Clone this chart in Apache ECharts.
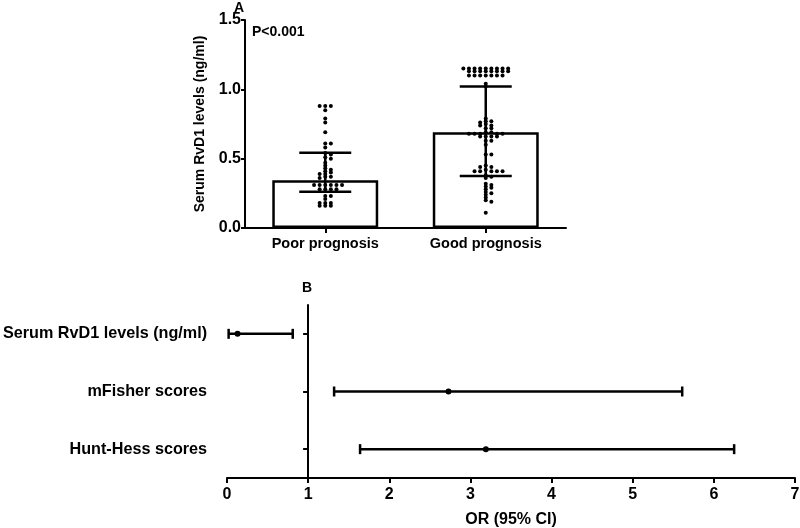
<!DOCTYPE html>
<html><head><meta charset="utf-8">
<script src="https://cdn.jsdelivr.net/npm/echarts@6/dist/echarts.min.js"></script>
<style>html,body{margin:0;padding:0;background:#fff}#c{width:800px;height:528px}</style>
</head><body><div id="c"></div>
<script>
// ---- Panel A data ----
const groups = ['Poor prognosis', 'Good prognosis'];
const groupMeans = [0.345, 0.69];
const errLow = [0.262, 0.375];
const errHigh = [0.543, 1.02];
const poorValues = [0.88,0.88,0.88,0.85,0.79,0.76,0.69,0.61,0.61,0.58,0.54,0.53,0.51,0.50,0.47,0.45,0.43,0.42,0.41,0.40,0.39,0.39,0.37,0.37,0.36,0.31,0.31,0.31,0.31,0.31,0.31,0.28,0.28,0.28,0.28,0.23,0.23,0.21,0.18,0.18,0.18,0.16,0.16,0.16];
const goodValues = [1.15,1.15,1.15,1.15,1.15,1.15,1.15,1.15,1.15,1.13,1.13,1.13,1.13,1.13,1.13,1.13,1.13,1.10,1.10,1.10,1.10,1.10,1.10,1.10,1.04,1.02,0.79,0.77,0.77,0.76,0.75,0.74,0.74,0.72,0.72,0.69,0.69,0.68,0.68,0.68,0.68,0.68,0.66,0.66,0.66,0.66,0.63,0.63,0.60,0.53,0.53,0.45,0.44,0.44,0.42,0.41,0.41,0.41,0.41,0.41,0.38,0.37,0.36,0.32,0.31,0.30,0.29,0.28,0.26,0.25,0.24,0.22,0.20,0.19,0.11];
// ---- Panel B data ----
const forestLabels = ['Serum RvD1 levels (ng/ml)', 'mFisher scores', 'Hunt-Hess scores'];
const orValues = [0.13, 2.73, 3.19];
const ciLow = [0.02, 1.32, 1.64];
const ciHigh = [0.81, 5.61, 6.25];

const FONT = "'Liberation Sans', Arial, sans-serif";
const txt = (size) => ({ color: '#000', fontFamily: FONT, fontWeight: 'bold', fontSize: size });

const chart = echarts.init(document.getElementById('c'), null, { renderer: 'canvas' });

const errData = groups.map((g, i) => [i, errLow[i], errHigh[i]]);
const forestData = forestLabels.map((l, i) => [i, ciLow[i], orValues[i], ciHigh[i]]);

const option = {
  animation: false,
  backgroundColor: '#fff',
  grid: [
    { left: 245, right: 234, top: 20, bottom: 300, containLabel: false, outerBoundsMode: 'none' },
    { left: 227, right: 5, top: 305, bottom: 50, containLabel: false, outerBoundsMode: 'none' }
  ],
  xAxis: [
    {
      gridIndex: 0, type: 'category', data: groups,
      axisLine: { show: true, lineStyle: { color: '#000', width: 2 } },
      axisTick: { show: true, alignWithLabel: true, length: 5, lineStyle: { color: '#000', width: 2 } },
      axisLabel: Object.assign(txt(14.5), { margin: 8 })
    },
    {
      gridIndex: 1, type: 'value', min: 0, max: 7, interval: 1,
      name: 'OR (95% CI)', nameLocation: 'middle', nameGap: 34, nameTextStyle: txt(16),
      splitLine: { show: false },
      axisLine: { show: true, onZero: false, lineStyle: { color: '#000', width: 2 } },
      axisTick: { show: true, length: 5, lineStyle: { color: '#000', width: 2 } },
      axisLabel: Object.assign(txt(16), { margin: 9 })
    }
  ],
  yAxis: [
    {
      gridIndex: 0, type: 'value', min: 0, max: 1.5, interval: 0.5,
      name: 'Serum RvD1 levels (ng/ml)', nameLocation: 'middle', nameGap: 38, nameRotate: 90,
      nameTextStyle: txt(14),
      splitLine: { show: false },
      axisLine: { show: true, lineStyle: { color: '#000', width: 2 } },
      axisTick: { show: true, length: 4, lineStyle: { color: '#000', width: 2 } },
      axisLabel: Object.assign(txt(16), { margin: 4, formatter: v => v.toFixed(1) })
    },
    {
      gridIndex: 1, type: 'category', data: forestLabels, inverse: true,
      position: 'left', offset: -81.1,
      axisLine: { show: true, onZero: false, lineStyle: { color: '#000', width: 2 } },
      axisTick: { show: true, alignWithLabel: true, length: 5, lineStyle: { color: '#000', width: 2 } },
      axisLabel: Object.assign(txt(16.2), { margin: 101 })
    }
  ],
  graphic: [
    { type: 'text', left: 234, top: 1, style: { text: 'A', font: 'bold 14px ' + FONT, fill: '#000' } },
    { type: 'text', left: 252, top: 25, style: { text: 'P<0.001', font: 'bold 14px ' + FONT, fill: '#000' } },
    { type: 'text', left: 302, top: 281, style: { text: 'B', font: 'bold 14px ' + FONT, fill: '#000' } }
  ],
  series: [
    {
      type: 'bar', xAxisIndex: 0, yAxisIndex: 0, data: groupMeans, barWidth: '66%',
      itemStyle: { color: '#fff', borderColor: '#000', borderWidth: 2.5 }, z: 2
    },
    {
      type: 'custom', xAxisIndex: 0, yAxisIndex: 0, data: errData, z: 3,
      renderItem: (params, api) => {
        const lo = api.coord([api.value(0), api.value(1)]);
        const hi = api.coord([api.value(0), api.value(2)]);
        const hw = 26;
        const st = { stroke: '#000', lineWidth: 2.5 };
        return { type: 'group', children: [
          { type: 'line', shape: { x1: lo[0], y1: lo[1], x2: hi[0], y2: hi[1] }, style: st },
          { type: 'line', shape: { x1: lo[0] - hw, y1: lo[1], x2: lo[0] + hw, y2: lo[1] }, style: st },
          { type: 'line', shape: { x1: hi[0] - hw, y1: hi[1], x2: hi[0] + hw, y2: hi[1] }, style: st }
        ]};
      }
    },
    {
      type: 'custom', xAxisIndex: 1, yAxisIndex: 1, data: forestData, z: 3,
      renderItem: (params, api) => {
        const c = api.value(0);
        const lo = api.coord([api.value(1), c]);
        const mid = api.coord([api.value(2), c]);
        const hi = api.coord([api.value(3), c]);
        const cap = 5;
        const st = { stroke: '#000', lineWidth: 2.5 };
        return { type: 'group', children: [
          { type: 'line', shape: { x1: lo[0], y1: lo[1], x2: hi[0], y2: hi[1] }, style: st },
          { type: 'line', shape: { x1: lo[0], y1: lo[1] - cap, x2: lo[0], y2: lo[1] + cap }, style: st },
          { type: 'line', shape: { x1: hi[0], y1: hi[1] - cap, x2: hi[0], y2: hi[1] + cap }, style: st },
          { type: 'circle', shape: { cx: mid[0], cy: mid[1], r: 3 }, style: { fill: '#000' } }
        ]};
      }
    }
  ]
};
chart.setOption(option);

// Column-style scatter layout computed from data using the axis scale
function swarm(values, catIndex) {
  const SX = 5.6, SY = 2.6, STEP = 2.8;
  const placed = [];
  const out = [];
  const order = values.map((v, i) => i).sort((a, b) => values[b] - values[a]);
  order.forEach(i => {
    const py = chart.convertToPixel({ xAxisIndex: 0, yAxisIndex: 0 }, [catIndex, values[i]])[1];
    let chosen = 0;
    for (let k = 0; k < 80; k++) {
      const cands = k === 0 ? [0] : [k * STEP, -k * STEP];
      let ok = false;
      for (const dx of cands) {
        if (placed.every(p => Math.abs(p[0] - dx) >= SX - 0.01 || Math.abs(p[1] - py) >= SY)) { chosen = dx; ok = true; break; }
      }
      if (ok) break;
    }
    placed.push([chosen, py]);
    out.push([catIndex, values[i], chosen]);
  });
  return out;
}
const dotData = swarm(poorValues, 0).concat(swarm(goodValues, 1));
chart.setOption({
  series: option.series.concat([{
    type: 'custom', xAxisIndex: 0, yAxisIndex: 0, data: dotData, z: 4,
    renderItem: (params, api) => {
      const p = api.coord([api.value(0), api.value(1)]);
      return { type: 'circle', shape: { cx: p[0] + api.value(2), cy: p[1], r: 2 }, style: { fill: '#000' } };
    }
  }])
});
</script>
</body></html>
